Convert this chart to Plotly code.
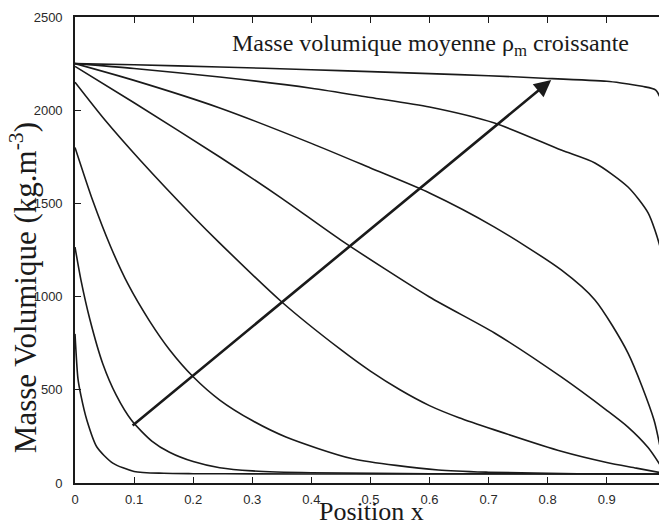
import plotly.graph_objects as go

# density profiles rho(x), one per mean density, from lowest to highest
x_c1 = [0, 0.005, 0.01, 0.02, 0.037, 0.064, 0.1, 0.15, 0.2, 0.3, 0.5, 0.8, 1.0]
rho_c1 = [800, 560, 470, 338, 193, 107, 62, 52, 50, 49, 48, 48, 48]

x_c2 = [0, 0.01, 0.025, 0.047, 0.07, 0.096, 0.13, 0.16, 0.2, 0.245, 0.3, 0.4, 0.6, 1.0]
rho_c2 = [1266, 1090, 880, 640, 470, 335, 225, 165, 115, 82, 65, 55, 50, 48]

x_c3 = [0, 0.03, 0.06, 0.09, 0.126, 0.16, 0.2, 0.245, 0.3, 0.357, 0.47, 0.615, 0.7, 0.85, 1.0]
rho_c3 = [1800, 1515, 1270, 1065, 870, 715, 570, 445, 335, 247, 130, 70, 58, 50, 48]

x_c4 = [0, 0.05, 0.11, 0.2, 0.245, 0.35, 0.45, 0.5, 0.55, 0.6, 0.65, 0.71, 0.823, 0.9, 0.95, 1.0]
rho_c4 = [2150, 1950, 1733, 1430, 1287, 971, 715, 600, 500, 415, 350, 285, 170, 110, 80, 50]

x_c5 = [0, 0.1, 0.245, 0.35, 0.45, 0.6, 0.71, 0.823, 0.9, 0.936, 0.97, 1.0]
rho_c5 = [2235, 2040, 1749, 1527, 1303, 998, 805, 569, 390, 300, 190, 50]

x_c6 = [0, 0.1, 0.245, 0.4, 0.5, 0.6, 0.71, 0.823, 0.88, 0.936, 0.98, 0.995, 1.0]
rho_c6 = [2250, 2160, 2012, 1822, 1690, 1556, 1373, 1143, 982, 697, 338, 120, 50]

x_c7 = [0, 0.1, 0.245, 0.4, 0.5, 0.6, 0.71, 0.823, 0.88, 0.936, 0.97, 0.99, 0.997, 1.0]
rho_c7 = [2250, 2224, 2178, 2118, 2068, 2017, 1931, 1786, 1717, 1588, 1449, 1270, 1150, 50]

x_c8 = [0, 0.1, 0.245, 0.4, 0.5, 0.6, 0.7, 0.784, 0.9, 0.924, 0.96, 0.983, 0.995, 0.998, 1.0]
rho_c8 = [2250, 2244, 2232, 2217, 2207, 2196, 2185, 2173, 2155, 2146, 2128, 2108, 2022, 1800, 50]

curves = [(x_c1, rho_c1), (x_c2, rho_c2), (x_c3, rho_c3), (x_c4, rho_c4),
          (x_c5, rho_c5), (x_c6, rho_c6), (x_c7, rho_c7), (x_c8, rho_c8)]

# arrow: increasing mean density
arrow_tail = (0.095, 302)
arrow_head = (0.806, 2162)

serif = "Liberation Serif"

fig = go.Figure()
for xs, ys in curves:
    fig.add_trace(go.Scatter(x=xs, y=ys, mode="lines",
                             line=dict(color="#1a1a1a", width=1.6, shape="spline", smoothing=0.7),
                             showlegend=False, hoverinfo="skip"))

fig.add_annotation(x=arrow_head[0], y=arrow_head[1], ax=arrow_tail[0], ay=arrow_tail[1],
                   xref="x", yref="y", axref="x", ayref="y", text="",
                   showarrow=True, arrowhead=2, arrowsize=1.3, arrowwidth=2.6, arrowcolor="#1a1a1a")

fig.add_annotation(x=0.601, y=2350, xref="x", yref="y", showarrow=False,
                   text="Masse volumique moyenne ρ<sub>m</sub> croissante",
                   font=dict(family=serif, size=24, color="#1a1a1a"))

fig.add_annotation(x=-0.088, y=0.42, xref="paper", yref="paper", showarrow=False,
                   xanchor="center", yanchor="middle",
                   text="Masse Volumique (kg.m<sup>-3</sup>)", textangle=-90,
                   font=dict(family=serif, size=31, color="#1a1a1a"))

fig.add_annotation(x=0.5, y=-0.062, xref="paper", yref="paper", showarrow=False,
                   text="Position x", xanchor="center", yanchor="middle",
                   font=dict(family=serif, size=26, color="#1a1a1a"))

axis_style = dict(showline=True, linecolor="#1a1a1a", linewidth=1.6, mirror="ticks",
                  ticks="inside", ticklen=6, tickwidth=1.4, tickcolor="#1a1a1a",
                  showgrid=False, zeroline=False, automargin=False,
                  tickfont=dict(family="Liberation Sans", size=13, color="#2a2a2a"))

fig.update_xaxes(range=[0, 1.002], tickvals=[0, 0.1, 0.2, 0.3, 0.4, 0.5, 0.6, 0.7, 0.8, 0.9, 1],
                 ticktext=["0", "0.1", "0.2", "0.3", "0.4", "0.5", "0.6", "0.7", "0.8", "0.9", "1"],
                 ticklabelstandoff=4, **axis_style)
fig.update_yaxes(range=[0, 2500], dtick=500, ticklabelstandoff=8, **axis_style)

# page body adds an 8px offset, so the figure is sized to fill the rest of the window
fig.update_layout(width=659, height=514, margin=dict(l=67, r=0, t=9, b=39),
                  plot_bgcolor="white", paper_bgcolor="white")

fig.write_html("out.html")
